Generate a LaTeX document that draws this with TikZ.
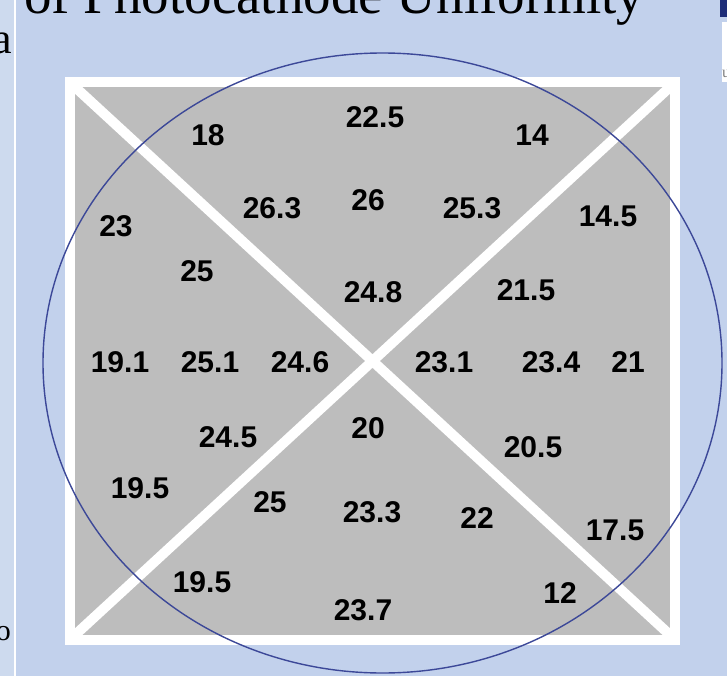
\documentclass[tikz,border=0pt]{standalone}
\usepackage{fontspec}
\setmainfont{Liberation Serif}
\newfontfamily\valfont{Liberation Sans}
\definecolor{bgblue}{RGB}{194,209,236}
\definecolor{stripblue}{RGB}{205,218,238}
\definecolor{panelgray}{RGB}{189,189,189}
\definecolor{ringblue}{RGB}{60,72,152}
\definecolor{tabblue}{RGB}{30,45,120}

\begin{document}
\begin{tikzpicture}[
  x=1pt,y=-1pt,
  val/.style={font=\valfont\bfseries\fontsize{30}{30}\selectfont,inner sep=0pt},
  edge/.style={white,line width=10pt},
  ring/.style={draw=ringblue,line width=1.4pt},
  frag/.style={inner sep=0pt,text=black}
]
  % Page and background
  \clip (0,0) rectangle (727,676);
  \fill[bgblue] (0,0) rectangle (727,676);
  \fill[stripblue] (0,0) rectangle (14,676);
  \draw[white,line width=2pt] (14.5,0) -- (14.5,676);
  \fill[white] (722,22) rectangle (727,82);
  \fill[tabblue] (720,0) rectangle (727,17);

  % Cut-off slide texts
  \node[frag,anchor=base west,font=\fontsize{55}{55}\selectfont] (title) at (24,14) {of Photocathode Uniformity};
  \node[frag,anchor=base east,font=\fontsize{44}{44}\selectfont] (fragA) at (12,54) {a};
  \node[frag,anchor=base east,font=\fontsize{30}{30}\selectfont] (fragO) at (11,640) {o};
  \node[frag,anchor=base west,text=gray,font=\fontsize{16}{16}\selectfont] (fragU) at (722,78) {u};

  % Key points of the panel
  \coordinate (TL) at (75,87);
  \coordinate (TR) at (670,87);
  \coordinate (BL) at (75,635);
  \coordinate (BR) at (670,635);

  % Panel, diagonals and frame
  \fill[panelgray] (TL) rectangle (BR);
  \draw[edge] (TL) -- (BR);
  \draw[edge] (BL) -- (TR);
  \draw[edge] (70,82) rectangle (675,640);

  % Photocathode outline
  \draw[ring] (382.5,363) ellipse [x radius=339.5,y radius=310];

  % Measured values
  \foreach \x/\y/\v [count=\i] in {
      208/135/18, 375/117/22.5, 532/135/14,
      116/226/23, 272/208/26.3, 368/200/26, 472/208/25.3, 608/216/14.5,
      197/271/25, 373/292/24.8, 526/290/21.5,
      120/362/19.1, 210/362/25.1, 300/362/24.6, 444/362/23.1, 551/362/23.4, 628/362/21,
      228/437/24.5, 368/428/20, 533/447/20.5,
      140/488/19.5, 270/502/25, 372/512/23.3, 477/518/22, 615/530/17.5,
      202/582/19.5, 560/593/12, 363/610/23.7}
    \node[val] (v\i) at (\x,\y) {\v};
\end{tikzpicture}
\end{document}
